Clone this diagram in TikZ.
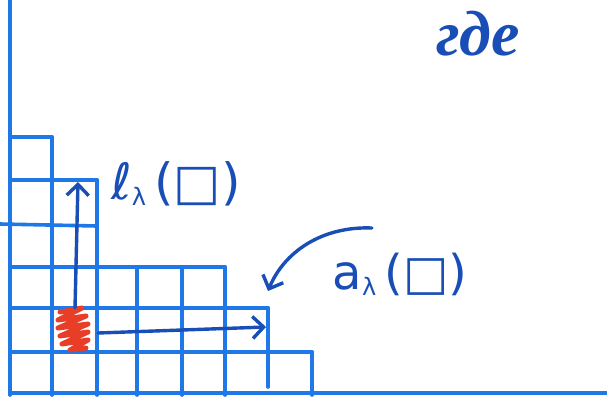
\documentclass[tikz,border=0pt]{standalone}
\usepackage{fontspec}
\usetikzlibrary{arrows.meta}
\newfontfamily\cyrhand{Liberation Serif}
\newfontfamily\handsans{DejaVu Sans}
\definecolor{gridblue}{RGB}{30,120,232}
\definecolor{inkblue}{RGB}{24,78,182}
\definecolor{scribred}{RGB}{232,62,40}
\tikzset{
  gridline/.style={draw=gridblue, line width=3.6pt, line cap=round},
  inkarrow/.style={draw=inkblue, line width=3.4pt, line cap=round, -{Straight Barb[length=11pt,width=22pt,line width=3.4pt]}},
  inklabel/.style={text=inkblue, inner sep=0pt}
}
\begin{document}
\begin{tikzpicture}[x=1pt,y=-1pt]
\useasboundingbox (0,0) rectangle (607,397);
\fill[white] (0,0) rectangle (607,397);
% axes
\draw[gridline] (10,0) -- (10,395);
\draw[gridline] (10,393) -- (607,393);
% horizontal grid lines
\draw[gridline] (10,352) -- (312,352);
\draw[gridline] (10,308) -- (268,308);
\draw[gridline] (10,267) -- (225,267);
\draw[gridline] (0,224) -- (97,226);
\draw[gridline] (10,180) -- (97,180);
\draw[gridline] (10,137) -- (52,137);
% vertical grid lines
\draw[gridline] (52,395) -- (52,137);
\draw[gridline] (97,395) -- (97,180);
\foreach \x in {137,182,225} \draw[gridline] (\x,395) -- (\x,267);
\draw[gridline] (268,387) -- (268,308);
\draw[gridline] (312,395) -- (312,352);
% red scribble
\draw[scribred, line width=5pt, line join=round, line cap=round]
  (60,312) -- (82,308) -- (58,320) -- (86,316) -- (58,328) -- (88,324) -- (60,336) -- (88,332) -- (62,344) -- (88,340) -- (70,350) -- (86,348);
% arrows
\coordinate (legstart) at (75,308);
\coordinate (legend) at (78,182);
\coordinate (armstart) at (98,333);
\coordinate (armend) at (266,327);
\coordinate (curvestart) at (372,228);
\coordinate (curveend) at (268,291);
\draw[inkarrow] (legstart) -- (legend);
\draw[inkarrow] (armstart) -- (armend);
\draw[inkarrow] (curvestart) .. controls (322,226) and (284,252) .. (curveend);
% labels
\node[inklabel, font=\handsans\fontsize{50}{54}\selectfont] (leg) at (176,184)
  {ℓ\raisebox{-6pt}{\fontsize{24}{24}\selectfont λ}\,(□)};
\node[inklabel, font=\handsans\fontsize{48}{52}\selectfont] (arm) at (400,274)
  {a\raisebox{-6pt}{\fontsize{24}{24}\selectfont λ}\,(□)};
\node[inklabel, font=\cyrhand\bfseries\itshape\fontsize{64}{68}\selectfont] (gde) at (478,34) {где};
\end{tikzpicture}
\end{document}
